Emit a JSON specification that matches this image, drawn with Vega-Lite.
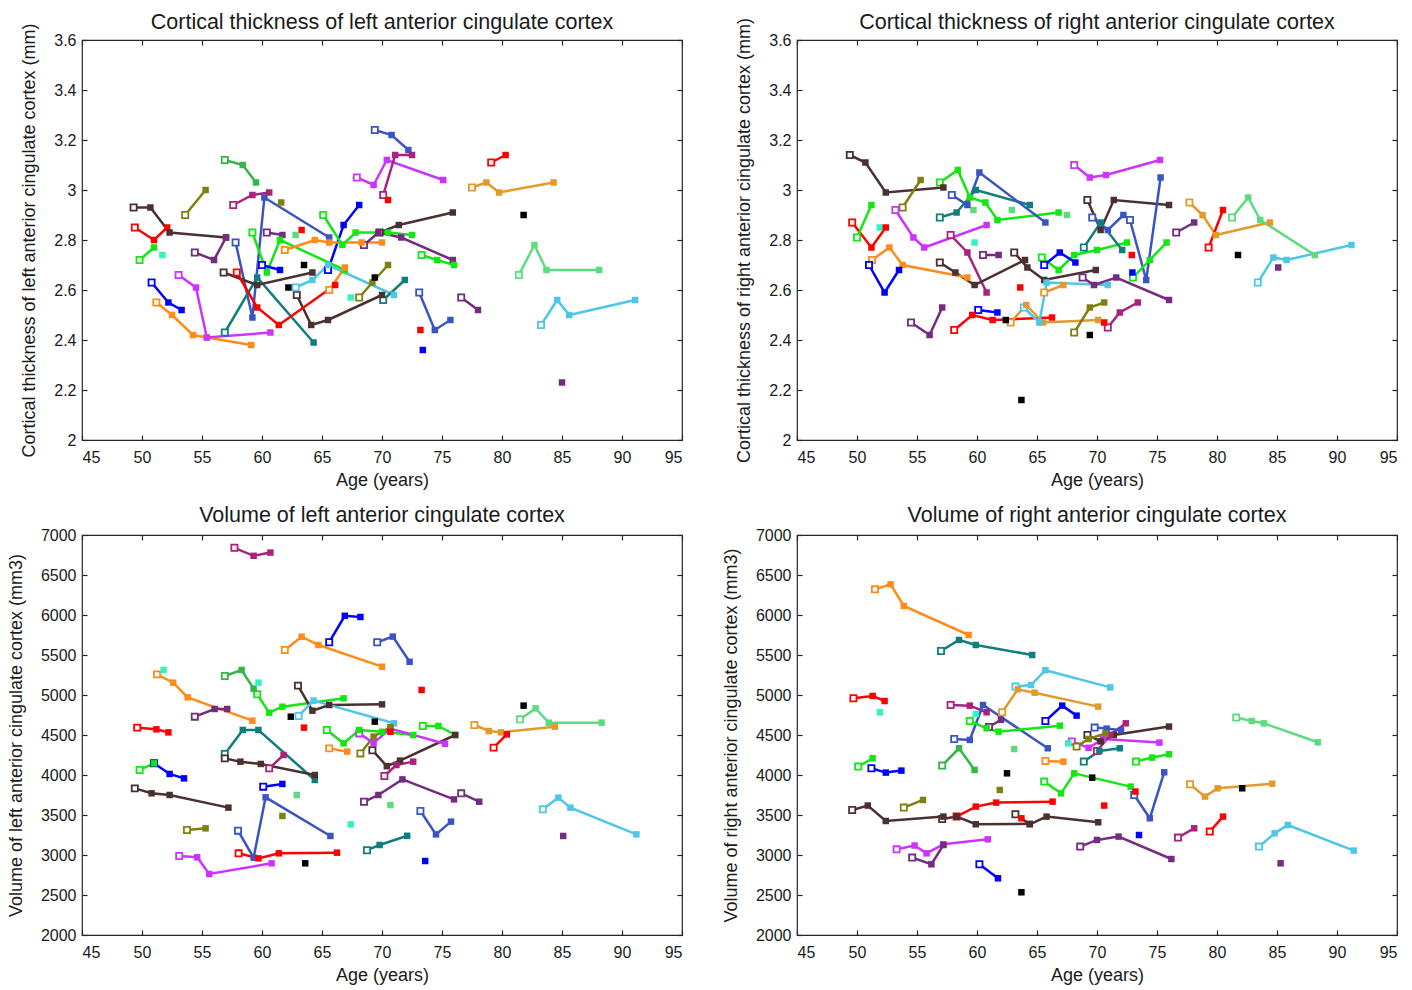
{
"$schema": "https://vega.github.io/schema/vega-lite/v6.json",
"background": "white",
"padding": {"left": 6, "top": 11, "right": 5, "bottom": 2},
"config": {
 "font": "Liberation Sans",
 "view": {"stroke": "#262626", "strokeWidth": 1.2},
 "axis": {"grid": false, "domain": false, "tickSize": -5, "tickColor": "#262626", "tickWidth": 1.2, "labelFontSize": 16, "labelColor": "#1a1a1a", "titleFontSize": 18, "titleFontWeight": "normal", "titleColor": "#1a1a1a", "labelPadding": 11, "titlePadding": 15, "labelFont": "Liberation Sans", "titleFont": "Liberation Sans"},
 "axisBottom": {"labelPadding": 14, "titlePadding": 6},
 "title": {"fontSize": 21.5, "fontWeight": "normal", "color": "#1a1a1a", "offset": 1, "font": "Liberation Sans"}
},
"datasets": {
"tl": [
{"s":"a1","c":"ol","x":53.6,"y":2.90},{"s":"a1","c":"ol","x":55.3,"y":3.00},
{"s":"a2","c":"mg","x":56.9,"y":3.12},{"s":"a2","c":"mg","x":58.4,"y":3.10},{"s":"a2","c":"mg","x":59.5,"y":3.03},
{"s":"a3","c":"pl","x":57.6,"y":2.94},{"s":"a3","c":"pl","x":59.2,"y":2.98},{"s":"a3","c":"pl","x":60.6,"y":2.99},
{"s":"a4","c":"rb","x":57.8,"y":2.79},{"s":"a4","c":"rb","x":59.2,"y":2.49},{"s":"a4","c":"rb","x":60.2,"y":2.97},{"s":"a4","c":"rb","x":65.6,"y":2.81},
{"s":"a5","c":"bl","x":65.5,"y":2.68},{"s":"a5","c":"bl","x":66.8,"y":2.86},{"s":"a5","c":"bl","x":68.1,"y":2.94},
{"s":"a6","c":"r","x":49.4,"y":2.85},{"s":"a6","c":"r","x":51.0,"y":2.80},{"s":"a6","c":"r","x":52.1,"y":2.85},
{"s":"a7","c":"br","x":49.3,"y":2.93},{"s":"a7","c":"br","x":50.7,"y":2.93},{"s":"a7","c":"br","x":52.3,"y":2.83},{"s":"a7","c":"br","x":57.0,"y":2.81},
{"s":"a8","c":"pu","x":54.4,"y":2.75},{"s":"a8","c":"pu","x":56.0,"y":2.72},{"s":"a8","c":"pu","x":57.0,"y":2.81},
{"s":"a9","c":"g","x":49.8,"y":2.72},{"s":"a9","c":"g","x":51.0,"y":2.77},
{"s":"a10","c":"aq","x":51.7,"y":2.74},
{"s":"a11","c":"ol","x":61.6,"y":2.95},
{"s":"a12","c":"r","x":63.3,"y":2.84},
{"s":"a13","c":"lg","x":62.8,"y":2.82},
{"s":"a14","c":"pu","x":60.4,"y":2.83},{"s":"a14","c":"pu","x":61.7,"y":2.82},
{"s":"a15","c":"g","x":59.2,"y":2.83},{"s":"a15","c":"g","x":60.4,"y":2.67},{"s":"a15","c":"g","x":61.5,"y":2.80},{"s":"a15","c":"g","x":66.9,"y":2.68},
{"s":"a16","c":"o","x":61.9,"y":2.76},{"s":"a16","c":"o","x":64.4,"y":2.80},{"s":"a16","c":"o","x":65.6,"y":2.79},{"s":"a16","c":"o","x":68.3,"y":2.79},{"s":"a16","c":"o","x":70.0,"y":2.79},
{"s":"a17","c":"bl","x":50.8,"y":2.63},{"s":"a17","c":"bl","x":52.2,"y":2.55},{"s":"a17","c":"bl","x":53.3,"y":2.52},
{"s":"a18","c":"o","x":51.2,"y":2.55},{"s":"a18","c":"o","x":52.5,"y":2.50},{"s":"a18","c":"o","x":54.25,"y":2.42},{"s":"a18","c":"o","x":55.4,"y":2.41},{"s":"a18","c":"o","x":59.1,"y":2.38},
{"s":"a19","c":"m","x":53.05,"y":2.66},{"s":"a19","c":"m","x":54.5,"y":2.61},{"s":"a19","c":"m","x":55.4,"y":2.41},{"s":"a19","c":"m","x":60.7,"y":2.43},
{"s":"a20","c":"te","x":56.9,"y":2.43},{"s":"a20","c":"te","x":59.6,"y":2.65},{"s":"a20","c":"te","x":64.3,"y":2.39},
{"s":"a21","c":"br","x":56.8,"y":2.67},{"s":"a21","c":"br","x":59.6,"y":2.62},{"s":"a21","c":"br","x":64.2,"y":2.67},
{"s":"a22","c":"br","x":62.9,"y":2.58},{"s":"a22","c":"br","x":64.1,"y":2.46},{"s":"a22","c":"br","x":65.5,"y":2.48},{"s":"a22","c":"br","x":70.0,"y":2.58},
{"s":"a23","c":"k","x":63.5,"y":2.70},
{"s":"a24","c":"k","x":62.2,"y":2.61},
{"s":"a25","c":"cy","x":62.8,"y":2.61},{"s":"a25","c":"cy","x":64.2,"y":2.64},{"s":"a25","c":"cy","x":65.5,"y":2.70},{"s":"a25","c":"cy","x":71.0,"y":2.58},
{"s":"a26","c":"aq","x":67.4,"y":2.57},
{"s":"a27","c":"ol","x":68.1,"y":2.57},{"s":"a27","c":"ol","x":69.2,"y":2.63},{"s":"a27","c":"ol","x":70.5,"y":2.70},
{"s":"a28","c":"te","x":70.1,"y":2.56},{"s":"a28","c":"te","x":71.9,"y":2.64},
{"s":"a29","c":"k","x":69.4,"y":2.65},
{"s":"a30","c":"m","x":67.9,"y":3.05},{"s":"a30","c":"m","x":69.3,"y":3.02},{"s":"a30","c":"m","x":70.4,"y":3.12},{"s":"a30","c":"m","x":75.1,"y":3.04},
{"s":"a31","c":"rb","x":69.4,"y":3.24},{"s":"a31","c":"rb","x":70.8,"y":3.22},{"s":"a31","c":"rb","x":72.2,"y":3.16},
{"s":"a32","c":"pl","x":70.1,"y":2.98},{"s":"a32","c":"pl","x":71.1,"y":3.14},{"s":"a32","c":"pl","x":72.5,"y":3.14},
{"s":"a33","c":"r","x":70.5,"y":2.96},
{"s":"a34","c":"r","x":79.1,"y":3.11},{"s":"a34","c":"r","x":80.3,"y":3.14},
{"s":"a35","c":"go","x":77.5,"y":3.01},{"s":"a35","c":"go","x":78.7,"y":3.03},{"s":"a35","c":"go","x":79.75,"y":2.99},{"s":"a35","c":"go","x":84.3,"y":3.03},
{"s":"a36","c":"k","x":81.8,"y":2.90},
{"s":"a37","c":"lg","x":81.4,"y":2.66},{"s":"a37","c":"lg","x":82.7,"y":2.78},{"s":"a37","c":"lg","x":83.7,"y":2.68},{"s":"a37","c":"lg","x":88.1,"y":2.68},
{"s":"a38","c":"br","x":69.8,"y":2.83},{"s":"a38","c":"br","x":71.4,"y":2.86},{"s":"a38","c":"br","x":75.9,"y":2.91},
{"s":"a39","c":"g","x":65.1,"y":2.90},{"s":"a39","c":"g","x":66.7,"y":2.78},{"s":"a39","c":"g","x":67.8,"y":2.83},{"s":"a39","c":"g","x":70.5,"y":2.83},{"s":"a39","c":"g","x":72.5,"y":2.82},
{"s":"a40","c":"pu","x":68.5,"y":2.78},{"s":"a40","c":"pu","x":69.7,"y":2.83},{"s":"a40","c":"pu","x":71.6,"y":2.81},{"s":"a40","c":"pu","x":75.9,"y":2.72},
{"s":"a41","c":"g","x":73.3,"y":2.74},{"s":"a41","c":"g","x":74.6,"y":2.72},{"s":"a41","c":"g","x":76.0,"y":2.70},
{"s":"a42","c":"rb","x":73.1,"y":2.59},{"s":"a42","c":"rb","x":74.4,"y":2.44},{"s":"a42","c":"rb","x":75.7,"y":2.48},
{"s":"a43","c":"r","x":73.2,"y":2.44},
{"s":"a44","c":"bl","x":73.4,"y":2.36},
{"s":"a45","c":"pu","x":76.6,"y":2.57},{"s":"a45","c":"pu","x":78.0,"y":2.52},
{"s":"a46","c":"cy","x":83.25,"y":2.46},{"s":"a46","c":"cy","x":84.6,"y":2.56},{"s":"a46","c":"cy","x":85.6,"y":2.50},{"s":"a46","c":"cy","x":91.1,"y":2.56},
{"s":"a47","c":"pu","x":85.0,"y":2.23},
{"s":"a48","c":"bl","x":60.0,"y":2.70},{"s":"a48","c":"bl","x":61.5,"y":2.68},
{"s":"a49","c":"r","x":57.9,"y":2.67},{"s":"a49","c":"r","x":59.6,"y":2.53},{"s":"a49","c":"r","x":61.4,"y":2.46},{"s":"a49","c":"r","x":66.1,"y":2.62},
{"s":"a50","c":"o","x":65.6,"y":2.60},{"s":"a50","c":"o","x":66.9,"y":2.69}
],
"tr": [
{"s":"b1","c":"br","x":49.4,"y":3.14},{"s":"b1","c":"br","x":50.7,"y":3.11},{"s":"b1","c":"br","x":52.4,"y":2.99},{"s":"b1","c":"br","x":57.2,"y":3.01},
{"s":"b2","c":"ol","x":53.8,"y":2.93},{"s":"b2","c":"ol","x":55.3,"y":3.04},
{"s":"b3","c":"g","x":56.9,"y":3.03},{"s":"b3","c":"g","x":58.4,"y":3.08},{"s":"b3","c":"g","x":59.4,"y":2.97},{"s":"b3","c":"g","x":60.7,"y":2.95},{"s":"b3","c":"g","x":61.7,"y":2.88},{"s":"b3","c":"g","x":66.8,"y":2.91},
{"s":"b4","c":"lg","x":59.7,"y":2.92},
{"s":"b5","c":"lg","x":62.9,"y":2.92},
{"s":"b6","c":"lg","x":67.5,"y":2.90},
{"s":"b7","c":"te","x":56.9,"y":2.89},{"s":"b7","c":"te","x":58.3,"y":2.91},{"s":"b7","c":"te","x":59.9,"y":3.00},{"s":"b7","c":"te","x":64.4,"y":2.94},
{"s":"b8","c":"rb","x":57.9,"y":2.98},{"s":"b8","c":"rb","x":59.2,"y":2.94},{"s":"b8","c":"rb","x":60.2,"y":3.07},{"s":"b8","c":"rb","x":65.7,"y":2.87},
{"s":"b9","c":"aq","x":51.9,"y":2.85},
{"s":"b10","c":"r","x":49.6,"y":2.87},{"s":"b10","c":"r","x":51.2,"y":2.77},{"s":"b10","c":"r","x":52.4,"y":2.85},
{"s":"b11","c":"g","x":50.0,"y":2.81},{"s":"b11","c":"g","x":51.2,"y":2.94},
{"s":"b12","c":"m","x":53.2,"y":2.92},{"s":"b12","c":"m","x":54.7,"y":2.81},{"s":"b12","c":"m","x":55.6,"y":2.77},{"s":"b12","c":"m","x":60.8,"y":2.86},
{"s":"b13","c":"pl","x":57.8,"y":2.82},{"s":"b13","c":"pl","x":59.2,"y":2.75},{"s":"b13","c":"pl","x":60.8,"y":2.59},
{"s":"b14","c":"aq","x":59.8,"y":2.79},
{"s":"b15","c":"pu","x":60.5,"y":2.74},{"s":"b15","c":"pu","x":61.8,"y":2.74},
{"s":"b16","c":"br","x":56.9,"y":2.71},{"s":"b16","c":"br","x":58.2,"y":2.67},{"s":"b16","c":"br","x":59.8,"y":2.62},{"s":"b16","c":"br","x":64.0,"y":2.72},
{"s":"b17","c":"br","x":63.1,"y":2.75},{"s":"b17","c":"br","x":64.2,"y":2.69},{"s":"b17","c":"br","x":65.6,"y":2.64},{"s":"b17","c":"br","x":69.9,"y":2.68},
{"s":"b18","c":"o","x":51.25,"y":2.72},{"s":"b18","c":"o","x":52.7,"y":2.77},{"s":"b18","c":"o","x":53.8,"y":2.70},{"s":"b18","c":"o","x":59.2,"y":2.65},
{"s":"b19","c":"bl","x":51.0,"y":2.70},{"s":"b19","c":"bl","x":52.3,"y":2.59},{"s":"b19","c":"bl","x":53.5,"y":2.68},
{"s":"b20","c":"pu","x":54.5,"y":2.47},{"s":"b20","c":"pu","x":56.05,"y":2.42},{"s":"b20","c":"pu","x":57.1,"y":2.53},
{"s":"b21","c":"r","x":58.1,"y":2.44},{"s":"b21","c":"r","x":59.6,"y":2.50},{"s":"b21","c":"r","x":61.3,"y":2.48},{"s":"b21","c":"r","x":66.25,"y":2.49},
{"s":"b22","c":"bl","x":60.1,"y":2.52},{"s":"b22","c":"bl","x":61.7,"y":2.51},
{"s":"b23","c":"k","x":62.4,"y":2.48},
{"s":"b24","c":"k","x":63.7,"y":2.16},
{"s":"b25","c":"k","x":69.4,"y":2.42},
{"s":"b26","c":"go","x":62.8,"y":2.47},{"s":"b26","c":"go","x":64.1,"y":2.54},{"s":"b26","c":"go","x":65.5,"y":2.47},{"s":"b26","c":"go","x":70.1,"y":2.48},
{"s":"b27","c":"cy","x":63.9,"y":2.53},{"s":"b27","c":"cy","x":65.2,"y":2.47},{"s":"b27","c":"cy","x":65.8,"y":2.63},{"s":"b27","c":"cy","x":70.9,"y":2.62},
{"s":"b28","c":"go","x":65.6,"y":2.59},{"s":"b28","c":"go","x":67.2,"y":2.62},
{"s":"b29","c":"r","x":63.6,"y":2.61},
{"s":"b30","c":"ol","x":68.1,"y":2.43},{"s":"b30","c":"ol","x":69.4,"y":2.53},{"s":"b30","c":"ol","x":70.6,"y":2.55},
{"s":"b31","c":"pl","x":70.9,"y":2.45},{"s":"b31","c":"pl","x":71.9,"y":2.51},{"s":"b31","c":"pl","x":73.4,"y":2.55},
{"s":"b32","c":"r","x":70.6,"y":2.47},
{"s":"b33","c":"pu","x":68.8,"y":2.65},{"s":"b33","c":"pu","x":69.75,"y":2.62},{"s":"b33","c":"pu","x":71.6,"y":2.65},{"s":"b33","c":"pu","x":76.0,"y":2.56},
{"s":"b34","c":"g","x":65.4,"y":2.73},{"s":"b34","c":"g","x":66.8,"y":2.68},{"s":"b34","c":"g","x":68.1,"y":2.74},{"s":"b34","c":"g","x":70.0,"y":2.76},{"s":"b34","c":"g","x":72.5,"y":2.79},
{"s":"b35","c":"bl","x":65.6,"y":2.70},{"s":"b35","c":"bl","x":66.9,"y":2.75},{"s":"b35","c":"bl","x":68.2,"y":2.71},
{"s":"b36","c":"m","x":68.1,"y":3.10},{"s":"b36","c":"m","x":69.4,"y":3.05},{"s":"b36","c":"m","x":70.75,"y":3.06},{"s":"b36","c":"m","x":75.25,"y":3.12},
{"s":"b37","c":"br","x":69.2,"y":2.96},{"s":"b37","c":"br","x":70.3,"y":2.84},{"s":"b37","c":"br","x":71.4,"y":2.96},{"s":"b37","c":"br","x":76.0,"y":2.94},
{"s":"b38","c":"te","x":68.9,"y":2.77},{"s":"b38","c":"te","x":70.3,"y":2.87},{"s":"b38","c":"te","x":72.1,"y":2.76},
{"s":"b39","c":"rb","x":69.6,"y":2.89},{"s":"b39","c":"rb","x":70.9,"y":2.84},{"s":"b39","c":"rb","x":72.2,"y":2.90},
{"s":"b40","c":"rb","x":72.75,"y":2.88},{"s":"b40","c":"rb","x":74.1,"y":2.64},{"s":"b40","c":"rb","x":75.3,"y":3.05},
{"s":"b41","c":"g","x":73.0,"y":2.65},{"s":"b41","c":"g","x":74.4,"y":2.72},{"s":"b41","c":"g","x":75.8,"y":2.79},
{"s":"b42","c":"bl","x":72.95,"y":2.67},
{"s":"b43","c":"r","x":72.9,"y":2.74},
{"s":"b44","c":"pu","x":76.6,"y":2.83},{"s":"b44","c":"pu","x":78.1,"y":2.87},
{"s":"b45","c":"go","x":77.7,"y":2.95},{"s":"b45","c":"go","x":78.8,"y":2.90},{"s":"b45","c":"go","x":79.9,"y":2.82},{"s":"b45","c":"go","x":84.4,"y":2.87},
{"s":"b46","c":"r","x":79.3,"y":2.77},{"s":"b46","c":"r","x":80.5,"y":2.92},
{"s":"b47","c":"k","x":81.75,"y":2.74},
{"s":"b48","c":"lg","x":81.25,"y":2.89},{"s":"b48","c":"lg","x":82.6,"y":2.97},{"s":"b48","c":"lg","x":83.6,"y":2.88},{"s":"b48","c":"lg","x":88.15,"y":2.74},
{"s":"b49","c":"cy","x":83.4,"y":2.63},{"s":"b49","c":"cy","x":84.7,"y":2.73},{"s":"b49","c":"cy","x":85.8,"y":2.72},{"s":"b49","c":"cy","x":91.2,"y":2.78},
{"s":"b50","c":"pu","x":85.1,"y":2.69}
],
"bl": [
{"s":"c1","c":"pl","x":57.7,"y":6840},{"s":"c1","c":"pl","x":59.3,"y":6740},{"s":"c1","c":"pl","x":60.7,"y":6780},
{"s":"c2","c":"bl","x":65.6,"y":5660},{"s":"c2","c":"bl","x":66.9,"y":5990},{"s":"c2","c":"bl","x":68.2,"y":5975},
{"s":"c3","c":"rb","x":69.6,"y":5660},{"s":"c3","c":"rb","x":70.9,"y":5730},{"s":"c3","c":"rb","x":72.3,"y":5415},
{"s":"c4","c":"o","x":61.9,"y":5563},{"s":"c4","c":"o","x":63.3,"y":5729},{"s":"c4","c":"o","x":64.7,"y":5625},{"s":"c4","c":"o","x":70.0,"y":5354},
{"s":"c5","c":"o","x":51.25,"y":5258},{"s":"c5","c":"o","x":52.6,"y":5154},{"s":"c5","c":"o","x":53.8,"y":4971},{"s":"c5","c":"o","x":59.2,"y":4679},
{"s":"c6","c":"aq","x":51.8,"y":5313},
{"s":"c7","c":"mg","x":56.9,"y":5238},{"s":"c7","c":"mg","x":58.3,"y":5313},{"s":"c7","c":"mg","x":59.3,"y":5080},
{"s":"c8","c":"aq","x":59.7,"y":5154},
{"s":"c9","c":"g","x":59.6,"y":5009},{"s":"c9","c":"g","x":60.6,"y":4779},{"s":"c9","c":"g","x":61.7,"y":4854},{"s":"c9","c":"g","x":66.8,"y":4958},
{"s":"c10","c":"br","x":63.0,"y":5117},{"s":"c10","c":"br","x":64.2,"y":4804},{"s":"c10","c":"br","x":65.6,"y":4875},{"s":"c10","c":"br","x":70.0,"y":4883},
{"s":"c11","c":"cy","x":63.05,"y":4738},{"s":"c11","c":"cy","x":64.3,"y":4930},{"s":"c11","c":"cy","x":71.0,"y":4646},
{"s":"c12","c":"k","x":62.4,"y":4729},
{"s":"c13","c":"k","x":69.4,"y":4667},
{"s":"c14","c":"r","x":63.5,"y":4592},
{"s":"c15","c":"pu","x":54.4,"y":4729},{"s":"c15","c":"pu","x":56.05,"y":4825},{"s":"c15","c":"pu","x":57.1,"y":4825},
{"s":"c16","c":"r","x":49.6,"y":4592},{"s":"c16","c":"r","x":51.2,"y":4571},{"s":"c16","c":"r","x":52.2,"y":4533},
{"s":"c17","c":"g","x":65.4,"y":4563},{"s":"c17","c":"g","x":66.8,"y":4396},{"s":"c17","c":"g","x":68.1,"y":4563},{"s":"c17","c":"g","x":70.0,"y":4540},{"s":"c17","c":"g","x":72.6,"y":4500},
{"s":"c18","c":"g","x":73.4,"y":4613},{"s":"c18","c":"g","x":74.7,"y":4613},{"s":"c18","c":"g","x":76.1,"y":4500},
{"s":"c19","c":"br","x":69.2,"y":4310},{"s":"c19","c":"br","x":70.4,"y":4110},{"s":"c19","c":"br","x":71.5,"y":4180},{"s":"c19","c":"br","x":76.1,"y":4500},
{"s":"c20","c":"m","x":68.1,"y":4520},{"s":"c20","c":"m","x":69.3,"y":4400},{"s":"c20","c":"m","x":70.7,"y":4580},{"s":"c20","c":"m","x":75.25,"y":4390},
{"s":"c21","c":"ol","x":68.2,"y":4270},{"s":"c21","c":"ol","x":69.3,"y":4480},{"s":"c21","c":"ol","x":70.7,"y":4600},
{"s":"c22","c":"r","x":70.7,"y":4540},
{"s":"c23","c":"pl","x":70.2,"y":3988},{"s":"c23","c":"pl","x":71.2,"y":4125},{"s":"c23","c":"pl","x":72.6,"y":4167},
{"s":"c24","c":"pu","x":68.5,"y":3665},{"s":"c24","c":"pu","x":69.7,"y":3750},{"s":"c24","c":"pu","x":71.7,"y":3945},{"s":"c24","c":"pu","x":76.0,"y":3695},
{"s":"c25","c":"pu","x":76.6,"y":3771},{"s":"c25","c":"pu","x":78.1,"y":3666},
{"s":"c26","c":"lg","x":70.7,"y":3625},
{"s":"c27","c":"rb","x":73.2,"y":3550},{"s":"c27","c":"rb","x":74.5,"y":3258},{"s":"c27","c":"rb","x":75.75,"y":3417},
{"s":"c28","c":"te","x":68.75,"y":3060},{"s":"c28","c":"te","x":69.8,"y":3125},{"s":"c28","c":"te","x":72.1,"y":3240},
{"s":"c29","c":"bl","x":73.6,"y":2925},
{"s":"c30","c":"r","x":73.3,"y":5063},
{"s":"c31","c":"k","x":81.8,"y":4867},
{"s":"c32","c":"lg","x":81.5,"y":4696},{"s":"c32","c":"lg","x":82.8,"y":4833},{"s":"c32","c":"lg","x":83.9,"y":4654},{"s":"c32","c":"lg","x":88.3,"y":4654},
{"s":"c33","c":"go","x":77.7,"y":4625},{"s":"c33","c":"go","x":78.9,"y":4550},{"s":"c33","c":"go","x":79.9,"y":4533},{"s":"c33","c":"go","x":84.4,"y":4604},
{"s":"c34","c":"r","x":79.3,"y":4342},{"s":"c34","c":"r","x":80.4,"y":4508},
{"s":"c35","c":"cy","x":83.4,"y":3571},{"s":"c35","c":"cy","x":84.7,"y":3717},{"s":"c35","c":"cy","x":85.7,"y":3592},{"s":"c35","c":"cy","x":91.2,"y":3258},
{"s":"c36","c":"pu","x":85.1,"y":3238},
{"s":"c37","c":"te","x":56.9,"y":4263},{"s":"c37","c":"te","x":58.4,"y":4563},{"s":"c37","c":"te","x":59.7,"y":4563},{"s":"c37","c":"te","x":64.4,"y":3938},
{"s":"c38","c":"br","x":56.9,"y":4208},{"s":"c38","c":"br","x":58.2,"y":4167},{"s":"c38","c":"br","x":59.9,"y":4138},{"s":"c38","c":"br","x":64.4,"y":4000},
{"s":"c39","c":"pl","x":60.6,"y":4083},{"s":"c39","c":"pl","x":61.8,"y":4250},
{"s":"c40","c":"g","x":49.8,"y":4063},{"s":"c40","c":"g","x":51.0,"y":4146},
{"s":"c41","c":"bl","x":51.0,"y":4146},{"s":"c41","c":"bl","x":52.3,"y":4013},{"s":"c41","c":"bl","x":53.5,"y":3958},
{"s":"c42","c":"br","x":49.4,"y":3833},{"s":"c42","c":"br","x":50.8,"y":3771},{"s":"c42","c":"br","x":52.3,"y":3750},{"s":"c42","c":"br","x":57.2,"y":3592},
{"s":"c43","c":"bl","x":60.1,"y":3854},{"s":"c43","c":"bl","x":61.7,"y":3888},
{"s":"c44","c":"rb","x":58.0,"y":3304},{"s":"c44","c":"rb","x":59.3,"y":2967},{"s":"c44","c":"rb","x":60.3,"y":3721},{"s":"c44","c":"rb","x":65.7,"y":3238},
{"s":"c45","c":"lg","x":62.9,"y":3750},
{"s":"c46","c":"ol","x":61.7,"y":3488},
{"s":"c47","c":"ol","x":53.75,"y":3313},{"s":"c47","c":"ol","x":55.3,"y":3333},
{"s":"c48","c":"aq","x":67.4,"y":3383},
{"s":"c49","c":"r","x":58.05,"y":3021},{"s":"c49","c":"r","x":59.7,"y":2958},{"s":"c49","c":"r","x":61.4,"y":3021},{"s":"c49","c":"r","x":66.25,"y":3029},
{"s":"c50","c":"m","x":53.1,"y":2988},{"s":"c50","c":"m","x":54.6,"y":2971},{"s":"c50","c":"m","x":55.6,"y":2763},{"s":"c50","c":"m","x":60.8,"y":2896},
{"s":"c51","c":"k","x":63.6,"y":2896},
{"s":"c52","c":"o","x":65.6,"y":4333},{"s":"c52","c":"o","x":67.1,"y":4292}
],
"br": [
{"s":"d1","c":"o","x":51.5,"y":6321},{"s":"d1","c":"o","x":52.8,"y":6384},{"s":"d1","c":"o","x":53.9,"y":6113},{"s":"d1","c":"o","x":59.3,"y":5750},
{"s":"d2","c":"te","x":57.0,"y":5550},{"s":"d2","c":"te","x":58.5,"y":5688},{"s":"d2","c":"te","x":59.9,"y":5625},{"s":"d2","c":"te","x":64.6,"y":5500},
{"s":"d3","c":"cy","x":63.2,"y":5105},{"s":"d3","c":"cy","x":64.5,"y":5125},{"s":"d3","c":"cy","x":65.7,"y":5310},{"s":"d3","c":"cy","x":71.1,"y":5095},
{"s":"d4","c":"go","x":62.1,"y":4784},{"s":"d4","c":"go","x":63.4,"y":5071},{"s":"d4","c":"go","x":64.8,"y":5029},{"s":"d4","c":"go","x":70.1,"y":4855},
{"s":"d5","c":"r","x":49.7,"y":4959},{"s":"d5","c":"r","x":51.3,"y":4988},{"s":"d5","c":"r","x":52.3,"y":4925},
{"s":"d6","c":"aq","x":51.9,"y":4784},
{"s":"d7","c":"pl","x":57.8,"y":4875},{"s":"d7","c":"pl","x":59.4,"y":4867},{"s":"d7","c":"pl","x":60.8,"y":4784},
{"s":"d8","c":"rb","x":58.1,"y":4450},{"s":"d8","c":"rb","x":59.4,"y":4438},{"s":"d8","c":"rb","x":60.5,"y":4875},{"s":"d8","c":"rb","x":65.9,"y":4334},
{"s":"d9","c":"aq","x":59.9,"y":4763},
{"s":"d10","c":"g","x":59.4,"y":4675},{"s":"d10","c":"g","x":60.8,"y":4584},{"s":"d10","c":"g","x":61.8,"y":4542},{"s":"d10","c":"g","x":66.9,"y":4617},
{"s":"d11","c":"pu","x":61.0,"y":4600},{"s":"d11","c":"pu","x":62.0,"y":4690},
{"s":"d12","c":"bl","x":65.7,"y":4675},{"s":"d12","c":"bl","x":67.1,"y":4867},{"s":"d12","c":"bl","x":68.3,"y":4742},
{"s":"d13","c":"lg","x":63.1,"y":4325},
{"s":"d14","c":"mg","x":57.1,"y":4118},{"s":"d14","c":"mg","x":58.5,"y":4334},{"s":"d14","c":"mg","x":59.8,"y":4063},
{"s":"d15","c":"g","x":50.1,"y":4105},{"s":"d15","c":"g","x":51.3,"y":4209},
{"s":"d16","c":"bl","x":51.2,"y":4084},{"s":"d16","c":"bl","x":52.4,"y":4030},{"s":"d16","c":"bl","x":53.7,"y":4055},
{"s":"d17","c":"k","x":62.5,"y":4021},
{"s":"d18","c":"o","x":65.7,"y":4175},{"s":"d18","c":"o","x":67.2,"y":4167},
{"s":"d19","c":"g","x":65.6,"y":3918},{"s":"d19","c":"g","x":67.0,"y":3771},{"s":"d19","c":"g","x":68.1,"y":4021},{"s":"d19","c":"g","x":72.8,"y":3855},
{"s":"d20","c":"k","x":69.6,"y":3967},
{"s":"d21","c":"ol","x":61.9,"y":3813},
{"s":"d22","c":"ol","x":53.9,"y":3593},{"s":"d22","c":"ol","x":55.5,"y":3688},
{"s":"d23","c":"br","x":49.6,"y":3563},{"s":"d23","c":"br","x":50.9,"y":3618},{"s":"d23","c":"br","x":52.4,"y":3425},{"s":"d23","c":"br","x":57.2,"y":3480},
{"s":"d24","c":"br","x":57.1,"y":3450},{"s":"d24","c":"br","x":58.3,"y":3480},{"s":"d24","c":"br","x":59.9,"y":3384},{"s":"d24","c":"br","x":64.4,"y":3390},
{"s":"d25","c":"br","x":63.2,"y":3509},{"s":"d25","c":"br","x":64.4,"y":3384},{"s":"d25","c":"br","x":65.8,"y":3480},{"s":"d25","c":"br","x":70.1,"y":3409},
{"s":"d26","c":"r","x":58.3,"y":3480},{"s":"d26","c":"r","x":59.9,"y":3605},{"s":"d26","c":"r","x":61.6,"y":3655},{"s":"d26","c":"r","x":66.3,"y":3667},
{"s":"d27","c":"r","x":63.7,"y":3459},
{"s":"d28","c":"m","x":53.3,"y":3071},{"s":"d28","c":"m","x":54.8,"y":3118},{"s":"d28","c":"m","x":55.8,"y":3021},{"s":"d28","c":"m","x":57.2,"y":3134},{"s":"d28","c":"m","x":60.9,"y":3196},
{"s":"d29","c":"pu","x":54.6,"y":2968},{"s":"d29","c":"pu","x":56.2,"y":2884},{"s":"d29","c":"pu","x":57.2,"y":3125},
{"s":"d30","c":"bl","x":60.2,"y":2884},{"s":"d30","c":"bl","x":61.75,"y":2709},
{"s":"d31","c":"k","x":63.7,"y":2534},
{"s":"d32","c":"pu","x":68.6,"y":3105},{"s":"d32","c":"pu","x":70.0,"y":3188},{"s":"d32","c":"pu","x":71.8,"y":3230},{"s":"d32","c":"pu","x":76.2,"y":2950},
{"s":"d33","c":"rb","x":73.1,"y":3750},{"s":"d33","c":"rb","x":74.4,"y":3459},{"s":"d33","c":"rb","x":75.6,"y":4034},
{"s":"d34","c":"r","x":73.2,"y":3793},
{"s":"d35","c":"r","x":70.6,"y":3618},
{"s":"d36","c":"bl","x":73.5,"y":3250},
{"s":"d37","c":"pl","x":76.75,"y":3218},{"s":"d37","c":"pl","x":78.1,"y":3334},
{"s":"d38","c":"r","x":79.4,"y":3293},{"s":"d38","c":"r","x":80.5,"y":3480},
{"s":"d39","c":"go","x":77.75,"y":3884},{"s":"d39","c":"go","x":79.0,"y":3730},{"s":"d39","c":"go","x":80.05,"y":3834},{"s":"d39","c":"go","x":84.6,"y":3892},
{"s":"d40","c":"k","x":82.1,"y":3834},
{"s":"d41","c":"lg","x":81.6,"y":4718},{"s":"d41","c":"lg","x":82.9,"y":4675},{"s":"d41","c":"lg","x":83.9,"y":4646},{"s":"d41","c":"lg","x":88.4,"y":4409},
{"s":"d42","c":"cy","x":83.5,"y":3105},{"s":"d42","c":"cy","x":84.8,"y":3271},{"s":"d42","c":"cy","x":85.9,"y":3375},{"s":"d42","c":"cy","x":91.4,"y":3055},
{"s":"d43","c":"pu","x":85.3,"y":2896},
{"s":"d44","c":"m","x":67.9,"y":4420},{"s":"d44","c":"m","x":69.3,"y":4340},{"s":"d44","c":"m","x":70.5,"y":4450},{"s":"d44","c":"m","x":75.2,"y":4405},
{"s":"d45","c":"g","x":73.25,"y":4168},{"s":"d45","c":"g","x":74.6,"y":4218},{"s":"d45","c":"g","x":76.0,"y":4259},
{"s":"d46","c":"br","x":69.2,"y":4500},{"s":"d46","c":"br","x":70.3,"y":4420},{"s":"d46","c":"br","x":71.4,"y":4500},{"s":"d46","c":"br","x":76.0,"y":4605},
{"s":"d47","c":"te","x":68.9,"y":4168},{"s":"d47","c":"te","x":70.2,"y":4300},{"s":"d47","c":"te","x":71.9,"y":4334},
{"s":"d48","c":"pl","x":70.0,"y":4300},{"s":"d48","c":"pl","x":71.1,"y":4500},{"s":"d48","c":"pl","x":72.4,"y":4646},
{"s":"d49","c":"rb","x":69.8,"y":4593},{"s":"d49","c":"rb","x":70.8,"y":4580},{"s":"d49","c":"rb","x":72.0,"y":4560},
{"s":"d50","c":"aq","x":67.6,"y":4396},
{"s":"d51","c":"ol","x":68.3,"y":4355},{"s":"d51","c":"ol","x":69.3,"y":4450},{"s":"d51","c":"ol","x":70.7,"y":4520}
]
},
"columns": 2,
"bounds": "flush",
"spacing": {"row": 95, "column": 115},
"concat": [
{
 "width": 600, "height": 400,
 "data": {"name": "tl"},
 "title": {"text": "Cortical thickness of left anterior cingulate cortex", "offset": -11},
 "transform": [
  {"window": [{"op": "row_number", "as": "r"}], "groupby": ["s"], "sort": [{"field": "x"}]},
  {"joinaggregate": [{"op": "count", "as": "n"}], "groupby": ["s"]}
 ],
 "layer": [
  {"mark": {"type": "line", "strokeWidth": 2.5},
   "encoding": {
    "x": {"field": "x", "type": "quantitative", "scale": {"domain": [45, 95], "nice": false, "zero": false}, "axis": {"orient": "bottom", "values": [45,50,55,60,65,70,75,80,85,90,95], "title": "Age (years)"}},
    "y": {"field": "y", "type": "quantitative", "scale": {"domain": [2, 3.6], "nice": false, "zero": false}, "axis": {"orient": "left", "values": [2,2.2,2.4,2.6,2.8,3,3.2,3.4,3.6], "format": "~g", "title": "Cortical thickness of left anterior cingulate cortex (mm)"}},
    "color": {"field": "c", "type": "nominal", "legend": null, "scale": {"domain": ["bl","rb","r","g","mg","lg","aq","cy","m","pl","pu","ol","te","br","k","o","go"], "range": ["#0000FF","#3A55C2","#FF0000","#14E614","#35B54A","#5EDB80","#35F2C2","#4EC7E6","#CC33FF","#A8227E","#732C7F","#808012","#117E7E","#4A3030","#000000","#FF8C1A","#E39A2C"]}},
    "detail": {"field": "s"},
    "order": {"field": "x", "type": "quantitative"}
   }},
  {"transform": [{"filter": "datum.r == 1 && datum.n > 1"}],
   "mark": {"type": "square", "filled": false, "fill": "white", "size": 38, "strokeWidth": 1.8, "opacity": 1},
   "encoding": {
    "x": {"field": "x", "type": "quantitative", "axis": null},
    "y": {"field": "y", "type": "quantitative", "axis": null},
    "color": {"field": "c", "type": "nominal", "legend": null}
   }},
  {"transform": [{"filter": "datum.r > 1 || datum.n == 1"}],
   "mark": {"type": "square", "filled": true, "size": 42, "opacity": 1},
   "encoding": {
    "x": {"field": "x", "type": "quantitative", "axis": {"orient": "top", "values": [45,50,55,60,65,70,75,80,85,90,95], "labels": false, "title": null}},
    "y": {"field": "y", "type": "quantitative", "axis": {"orient": "right", "values": [2,2.2,2.4,2.6,2.8,3,3.2,3.4,3.6], "labels": false, "title": null}},
    "color": {"field": "c", "type": "nominal", "legend": null}
   }}
 ],
 "resolve": {"axis": {"x": "independent", "y": "independent"}}
},
{
 "width": 600, "height": 400,
 "data": {"name": "tr"},
 "title": {"text": "Cortical thickness of right anterior cingulate cortex", "offset": -16},
 "transform": [
  {"window": [{"op": "row_number", "as": "r"}], "groupby": ["s"], "sort": [{"field": "x"}]},
  {"joinaggregate": [{"op": "count", "as": "n"}], "groupby": ["s"]}
 ],
 "layer": [
  {"mark": {"type": "line", "strokeWidth": 2.5},
   "encoding": {
    "x": {"field": "x", "type": "quantitative", "scale": {"domain": [45, 95], "nice": false, "zero": false}, "axis": {"orient": "bottom", "values": [45,50,55,60,65,70,75,80,85,90,95], "title": "Age (years)"}},
    "y": {"field": "y", "type": "quantitative", "scale": {"domain": [2, 3.6], "nice": false, "zero": false}, "axis": {"orient": "left", "values": [2,2.2,2.4,2.6,2.8,3,3.2,3.4,3.6], "format": "~g", "title": "Cortical thickness of right anterior cingulate cortex (mm)"}},
    "color": {"field": "c", "type": "nominal", "legend": null, "scale": {"domain": ["bl","rb","r","g","mg","lg","aq","cy","m","pl","pu","ol","te","br","k","o","go"], "range": ["#0000FF","#3A55C2","#FF0000","#14E614","#35B54A","#5EDB80","#35F2C2","#4EC7E6","#CC33FF","#A8227E","#732C7F","#808012","#117E7E","#4A3030","#000000","#FF8C1A","#E39A2C"]}},
    "detail": {"field": "s"},
    "order": {"field": "x", "type": "quantitative"}
   }},
  {"transform": [{"filter": "datum.r == 1 && datum.n > 1"}],
   "mark": {"type": "square", "filled": false, "fill": "white", "size": 38, "strokeWidth": 1.8, "opacity": 1},
   "encoding": {
    "x": {"field": "x", "type": "quantitative", "axis": null},
    "y": {"field": "y", "type": "quantitative", "axis": null},
    "color": {"field": "c", "type": "nominal", "legend": null}
   }},
  {"transform": [{"filter": "datum.r > 1 || datum.n == 1"}],
   "mark": {"type": "square", "filled": true, "size": 42, "opacity": 1},
   "encoding": {
    "x": {"field": "x", "type": "quantitative", "axis": {"orient": "top", "values": [45,50,55,60,65,70,75,80,85,90,95], "labels": false, "title": null}},
    "y": {"field": "y", "type": "quantitative", "axis": {"orient": "right", "values": [2,2.2,2.4,2.6,2.8,3,3.2,3.4,3.6], "labels": false, "title": null}},
    "color": {"field": "c", "type": "nominal", "legend": null}
   }}
 ],
 "resolve": {"axis": {"x": "independent", "y": "independent"}}
},
{
 "width": 600, "height": 400,
 "data": {"name": "bl"},
 "title": {"text": "Volume of left anterior cingulate cortex"},
 "transform": [
  {"window": [{"op": "row_number", "as": "r"}], "groupby": ["s"], "sort": [{"field": "x"}]},
  {"joinaggregate": [{"op": "count", "as": "n"}], "groupby": ["s"]}
 ],
 "layer": [
  {"mark": {"type": "line", "strokeWidth": 2.5},
   "encoding": {
    "x": {"field": "x", "type": "quantitative", "scale": {"domain": [45, 95], "nice": false, "zero": false}, "axis": {"orient": "bottom", "values": [45,50,55,60,65,70,75,80,85,90,95], "title": "Age (years)"}},
    "y": {"field": "y", "type": "quantitative", "scale": {"domain": [2000, 7000], "nice": false, "zero": false}, "axis": {"orient": "left", "values": [2000,2500,3000,3500,4000,4500,5000,5500,6000,6500,7000], "format": "d", "title": "Volume of left anterior cingulate cortex (mm3)"}},
    "color": {"field": "c", "type": "nominal", "legend": null, "scale": {"domain": ["bl","rb","r","g","mg","lg","aq","cy","m","pl","pu","ol","te","br","k","o","go"], "range": ["#0000FF","#3A55C2","#FF0000","#14E614","#35B54A","#5EDB80","#35F2C2","#4EC7E6","#CC33FF","#A8227E","#732C7F","#808012","#117E7E","#4A3030","#000000","#FF8C1A","#E39A2C"]}},
    "detail": {"field": "s"},
    "order": {"field": "x", "type": "quantitative"}
   }},
  {"transform": [{"filter": "datum.r == 1 && datum.n > 1"}],
   "mark": {"type": "square", "filled": false, "fill": "white", "size": 38, "strokeWidth": 1.8, "opacity": 1},
   "encoding": {
    "x": {"field": "x", "type": "quantitative", "axis": null},
    "y": {"field": "y", "type": "quantitative", "axis": null},
    "color": {"field": "c", "type": "nominal", "legend": null}
   }},
  {"transform": [{"filter": "datum.r > 1 || datum.n == 1"}],
   "mark": {"type": "square", "filled": true, "size": 42, "opacity": 1},
   "encoding": {
    "x": {"field": "x", "type": "quantitative", "axis": {"orient": "top", "values": [45,50,55,60,65,70,75,80,85,90,95], "labels": false, "title": null}},
    "y": {"field": "y", "type": "quantitative", "axis": {"orient": "right", "values": [2000,2500,3000,3500,4000,4500,5000,5500,6000,6500,7000], "labels": false, "title": null}},
    "color": {"field": "c", "type": "nominal", "legend": null}
   }}
 ],
 "resolve": {"axis": {"x": "independent", "y": "independent"}}
},
{
 "width": 600, "height": 400,
 "data": {"name": "br"},
 "title": {"text": "Volume of right anterior cingulate cortex"},
 "transform": [
  {"window": [{"op": "row_number", "as": "r"}], "groupby": ["s"], "sort": [{"field": "x"}]},
  {"joinaggregate": [{"op": "count", "as": "n"}], "groupby": ["s"]}
 ],
 "layer": [
  {"mark": {"type": "line", "strokeWidth": 2.5},
   "encoding": {
    "x": {"field": "x", "type": "quantitative", "scale": {"domain": [45, 95], "nice": false, "zero": false}, "axis": {"orient": "bottom", "values": [45,50,55,60,65,70,75,80,85,90,95], "title": "Age (years)"}},
    "y": {"field": "y", "type": "quantitative", "scale": {"domain": [2000, 7000], "nice": false, "zero": false}, "axis": {"orient": "left", "values": [2000,2500,3000,3500,4000,4500,5000,5500,6000,6500,7000], "format": "d", "title": "Volume of right anterior cingulate cortex (mm3)"}},
    "color": {"field": "c", "type": "nominal", "legend": null, "scale": {"domain": ["bl","rb","r","g","mg","lg","aq","cy","m","pl","pu","ol","te","br","k","o","go"], "range": ["#0000FF","#3A55C2","#FF0000","#14E614","#35B54A","#5EDB80","#35F2C2","#4EC7E6","#CC33FF","#A8227E","#732C7F","#808012","#117E7E","#4A3030","#000000","#FF8C1A","#E39A2C"]}},
    "detail": {"field": "s"},
    "order": {"field": "x", "type": "quantitative"}
   }},
  {"transform": [{"filter": "datum.r == 1 && datum.n > 1"}],
   "mark": {"type": "square", "filled": false, "fill": "white", "size": 38, "strokeWidth": 1.8, "opacity": 1},
   "encoding": {
    "x": {"field": "x", "type": "quantitative", "axis": null},
    "y": {"field": "y", "type": "quantitative", "axis": null},
    "color": {"field": "c", "type": "nominal", "legend": null}
   }},
  {"transform": [{"filter": "datum.r > 1 || datum.n == 1"}],
   "mark": {"type": "square", "filled": true, "size": 42, "opacity": 1},
   "encoding": {
    "x": {"field": "x", "type": "quantitative", "axis": {"orient": "top", "values": [45,50,55,60,65,70,75,80,85,90,95], "labels": false, "title": null}},
    "y": {"field": "y", "type": "quantitative", "axis": {"orient": "right", "values": [2000,2500,3000,3500,4000,4500,5000,5500,6000,6500,7000], "labels": false, "title": null}},
    "color": {"field": "c", "type": "nominal", "legend": null}
   }}
 ],
 "resolve": {"axis": {"x": "independent", "y": "independent"}}
}
]
}
